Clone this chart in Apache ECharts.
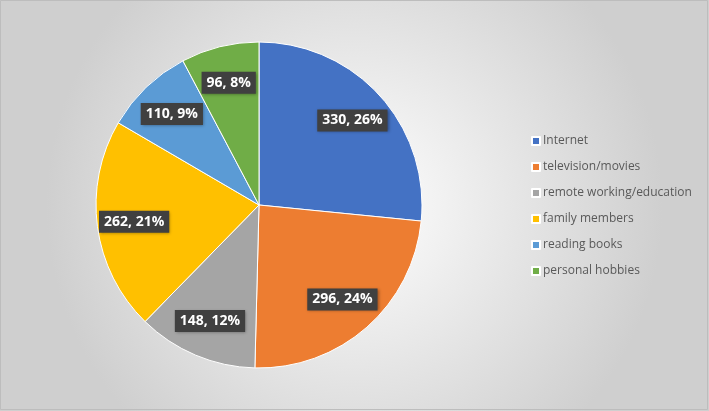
<!DOCTYPE html>
<html><head><meta charset="utf-8">
<script src="https://cdn.jsdelivr.net/npm/echarts@6/dist/echarts.min.js"></script>
<style>html,body{margin:0;padding:0;background:#fff}#c{width:709px;height:411px}</style>
</head><body><div id="c"></div>
<script>
const categories = ['Internet','television/movies','remote working/education','family members','reading books','personal hobbies'];
const values = [330, 296, 148, 262, 110, 96];
const percentLabels = ['26%','24%','12%','21%','9%','8%'];
const colors = ['#4472C4','#ED7D31','#A5A5A5','#FFC000','#5B9BD5','#70AD47'];

const chart = echarts.init(document.getElementById('c'), null, {renderer:'canvas'});
const data = categories.map((n,i)=>({name:n, value:values[i], itemStyle:{color:colors[i]}}));
chart.setOption({
  backgroundColor: {type:'radial', x:0.5, y:0.5, r:0.75, colorStops:[{offset:0,color:'#ffffff'},{offset:1,color:'#cfcfcf'}]},
  color: colors,
  legend: {
    orient:'vertical', left:526, top:130,
    icon:'rect', itemWidth:8, itemHeight:8, itemGap:14,
    textStyle:{color:'#595959', fontSize:12, fontFamily:'Open Sans', padding:[0,0,0,-2]},
    data: categories
  },
  series: [
    {
      type:'pie', center:[259,205], radius:[0,163], startAngle:90, clockwise:true,
      label:{show:false}, labelLine:{show:false}, silent:true,
      itemStyle:{borderColor:'#ffffff', borderWidth:1},
      data: data
    },
    {
      type:'pie', center:[259,205], radius:[83,163], startAngle:90, clockwise:true,
      silent:true, legendHoverLink:false,
      itemStyle:{color:'rgba(0,0,0,0)'},
      labelLine:{show:false},
      label:{
        show:true, position:'inside',
        formatter:(p)=>p.value+', '+percentLabels[p.dataIndex],
        color:'#ffffff', fontWeight:'bold', fontSize:14, lineHeight:16, fontFamily:'Open Sans',
        backgroundColor:'#404040', padding:[3,5,3,5],
        shadowColor:'rgba(0,0,0,0.35)', shadowBlur:3, shadowOffsetX:1, shadowOffsetY:1
      },
      data: categories.map((n,i)=>({name:'_'+n, value:values[i]}))
    }
  ],
  graphic:[{type:'rect', shape:{x:0.5,y:0.5,width:707,height:409}, style:{fill:null, stroke:'#bdbdbd', lineWidth:1}, silent:true}]
});
</script></body></html>
